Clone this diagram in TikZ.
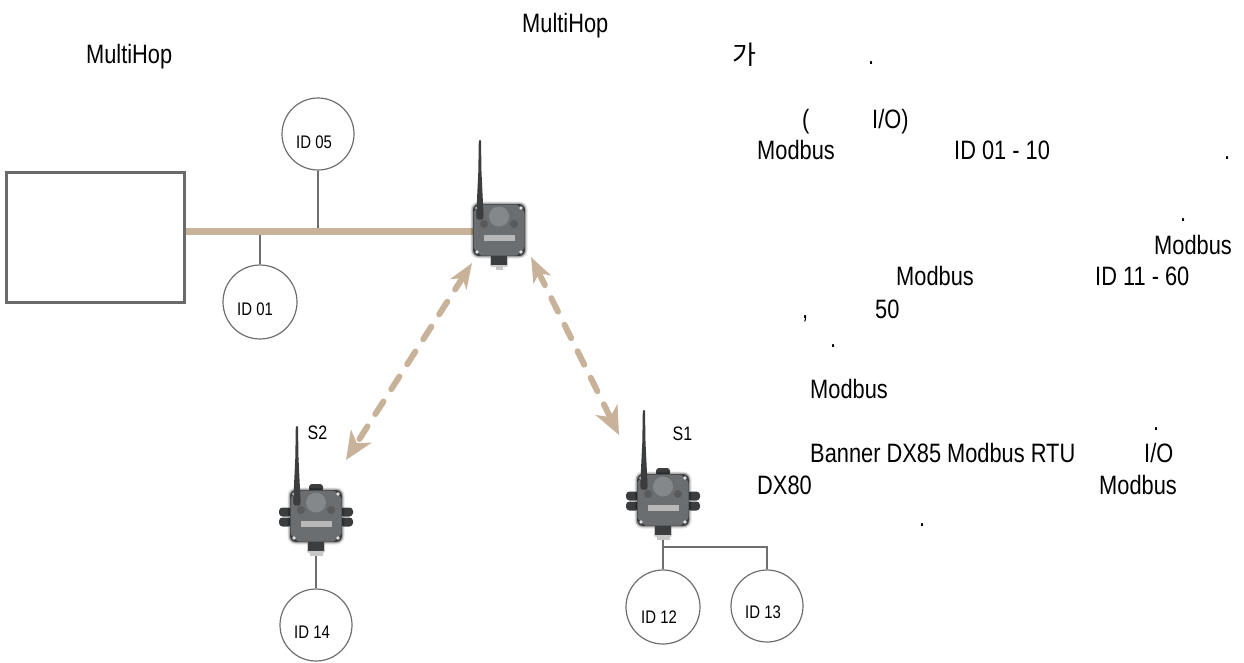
\documentclass[tikz,border=0pt]{standalone}
\usepackage{fontspec}
\setmainfont{Liberation Sans}[FakeStretch=0.82]
\newfontfamily\cjkfont{Noto Sans CJK KR}
\usetikzlibrary{arrows.meta}
\definecolor{tan}{HTML}{C8B29A}
\definecolor{wire}{HTML}{6E6E6E}
\definecolor{boxgray}{HTML}{6A6A6A}
\definecolor{devdark}{HTML}{3B3D3F}
\definecolor{devmid}{HTML}{6A6E70}
\definecolor{devlight}{HTML}{84888A}
\definecolor{devbar}{HTML}{B8B8B8}
\tikzset{
  x=1pt,y=-1pt,
  txt/.style={anchor=base west,inner sep=0pt,font=\fontsize{26.6}{28}\selectfont},
  tag/.style={anchor=base west,inner sep=0pt,font=\fontsize{19.5}{21}\selectfont},
  idt/.style={anchor=base west,inner sep=0pt,font=\fontsize{18.2}{20}\selectfont},
  idc/.style={circle,draw=wire,line width=1.2pt,minimum size=#1,inner sep=0pt},
  wireline/.style={draw=wire,line width=1.4pt},
  bus/.style={draw=tan,line width=7pt},
  radio/.style={draw=tan,line width=6pt,line cap=round,dash pattern=on 15pt off 14.6pt},
  smallhead/.tip={Stealth[length=25pt,width=19pt,inset=7pt,fill=tan]},
  bighead/.tip={Stealth[length=28pt,width=24pt,inset=8pt,fill=tan]},
  devbody/.style={rectangle,minimum size=52pt,inner sep=0pt,rounded corners=6pt,fill=devdark},
}
\newcommand\devcore[4]{%
  \begin{scope}[shift={(#2,#3)}]
    \fill[black,opacity=.10,rounded corners=8pt] (-28.5,-28.5) rectangle (28.5,28.5);
    \fill[black,opacity=.25,rounded corners=7pt] (-27.3,-27.3) rectangle (27.3,27.3);
    \fill[black,opacity=.2,rounded corners=2pt] (-9,26) rectangle (9,37);
    \fill[devdark] (-8,26) rectangle (8,35);
    \fill[black!22] (-#4,35) rectangle (#4,39.5);
    \node[devbody] (#1) at (0,0) {};
    \begin{scope}
      \clip[rounded corners=5pt] (-25.5,-25.5) rectangle (25.5,25.5);
      \fill[devmid] (0,0) circle (31);
    \end{scope}
    \fill[devlight] (0,-13.5) circle (10);
    \fill[devdark!85] (-15,-6) circle (4) (15,-6) circle (4);
    \fill[devbar] (-15,4.5) rectangle (15.5,11);
    \fill[white!88!black] (-22,-22) circle (1.8) (22,-22) circle (1.8) (-22,22) circle (1.8) (22,22) circle (1.8);
    \fill[devdark,rounded corners=1pt] (-20.2,-90) -- (-18,-90) -- (-17.5,-58) -- (-15.4,-14) -- (-16,-10.5) -- (-21.8,-10.5) -- (-22.8,-14) -- (-20.7,-58) -- cycle;
  \end{scope}}
\newcommand\devports[2]{%
  \begin{scope}[shift={(#1,#2)}]
    \fill[devdark,rounded corners=3pt] (-7,-32) rectangle (7,-24);
    \fill[devdark,rounded corners=3.5pt] (-37,-8.5) rectangle (-24,0.5) (-37,1.5) rectangle (-24,10.5) (24,-8.5) rectangle (37,0.5) (24,1.5) rectangle (37,10.5);
  \end{scope}}
\begin{document}
\begin{tikzpicture}
\useasboundingbox (0,0) rectangle (1244,662);
% ---- nodes
\node[draw=boxgray,line width=3pt,minimum width=178pt,minimum height=130pt,inner sep=0pt] (host) at (95,237) {};
\node[idc=72pt] (id05) at (318,134) {};
\node[idc=74pt] (id01) at (260,302) {};
\node[idc=72pt] (id14) at (316,625) {};
\node[idc=74pt] (id12) at (663,607) {};
\node[idc=72pt] (id13) at (767,606) {};
\node[idt] (l05) at (296,148) {ID 05};
\node[idt] (l01) at (237,315.5) {ID 01};
\node[idt] (l14) at (294,638) {ID 14};
\node[idt] (l12) at (641,623.5) {ID 12};
\node[idt] (l13) at (745,618.5) {ID 13};
\coordinate (d0anchor) at (499,231);
% ---- wires below devices
\draw[wireline] (id05.south) -- (id05.south |- d0anchor);
\draw[wireline] (id01.north) -- (id01.north |- d0anchor);
\draw[bus] (host.east |- d0anchor) -- (d0anchor);
\devports{316}{516}
\devports{663}{500}
\devcore{d0}{499}{230}{3.5}
\devcore{d2}{316}{516}{6.5}
\devcore{d1}{663}{500}{6.5}
\draw[wireline] (d2.south) ++(0,13.5) -- (id14.north);
\draw[wireline] (d1.south) ++(0,13.5) -- (id12.north);
\coordinate (branch) at (663,547);
\draw[wireline] (branch) -- (branch -| id13.north) -- (id13.north);
% ---- radio links
\coordinate (a1) at (472,263);
\coordinate (a2) at (346,460);
\coordinate (b1) at (531,257);
\coordinate (b2) at (619,435);
\draw[radio,{smallhead}-{bighead}] (a1) -- (a2);
\draw[radio,{smallhead}-{bighead}] (b1) -- (b2);
% ---- labels
\node[tag] (s2) at (307.5,439) {S2};
\node[tag] (s1) at (672.5,440) {S1};
\node[txt] (t1) at (86,63) {MultiHop};
\node[txt] (t2) at (522,32) {MultiHop};
\node[txt,font=\cjkfont\fontsize{26}{28}\selectfont] (t3) at (732,64) {가};
\node[txt] (t4) at (868,64) {.};
\node[txt] (t5) at (802,128) {(};
\node[txt] (t6) at (872,128) {I/O)};
\node[txt] (t7) at (757,159) {Modbus};
\node[txt] (t8) at (954,159) {ID 01 - 10};
\node[txt] (t9) at (1224,159) {.};
\node[txt] (t10) at (1180,221) {.};
\node[txt] (t11) at (1154,254) {Modbus};
\node[txt] (t12) at (896,285) {Modbus};
\node[txt] (t13) at (1095,285) {ID 11 - 60};
\node[txt] (t14) at (802,318) {,};
\node[txt] (t15) at (875,318) {50};
\node[txt] (t16) at (830,347) {.};
\node[txt] (t17) at (810,398) {Modbus};
\node[txt] (t18) at (1153,430) {.};
\node[txt] (t19) at (810,462) {Banner DX85 Modbus RTU};
\node[txt] (t20) at (1144,462) {I/O};
\node[txt] (t21) at (757,494) {DX80};
\node[txt] (t22) at (1099,494) {Modbus};
\node[txt] (t23) at (919,526) {.};
\end{tikzpicture}
\end{document}
